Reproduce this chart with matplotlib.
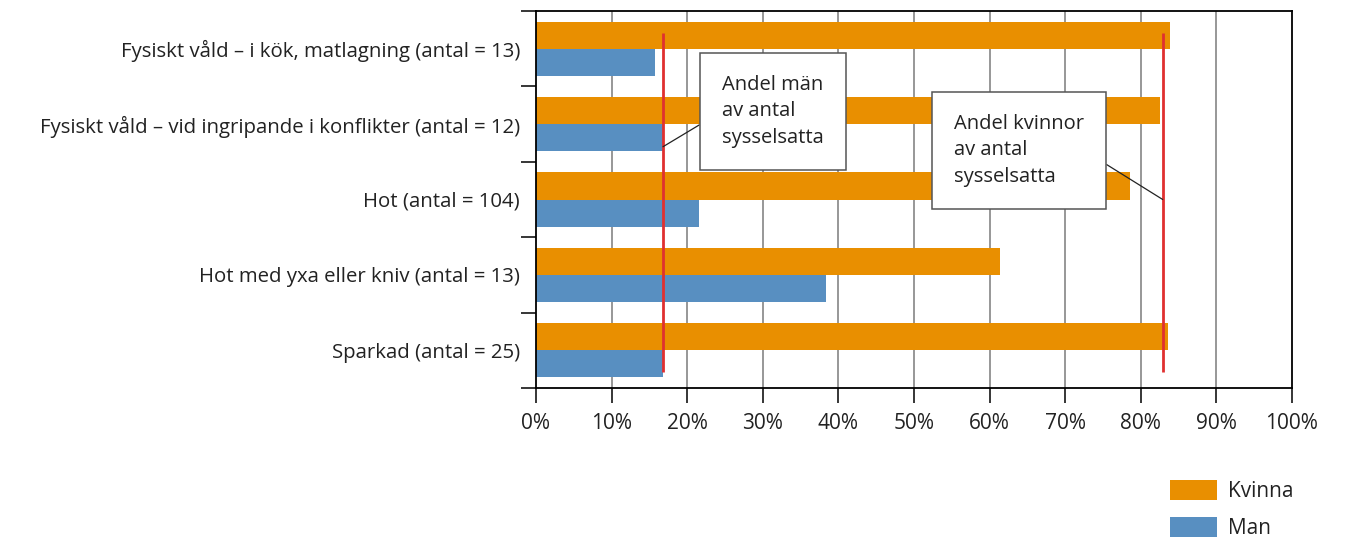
import numpy as np
import matplotlib
matplotlib.use("Agg")
from matplotlib import pyplot as plt
from matplotlib.ticker import FixedLocator

plt.rcParams['font.family'] = ['Open Sans', 'DejaVu Sans']

# data
categories = ['Fysiskt våld – i kök, matlagning (antal = 13)',
              'Fysiskt våld – vid ingripande i konflikter (antal = 12)',
              'Hot (antal = 104)',
              'Hot med yxa eller kniv (antal = 13)',
              'Sparkad (antal = 25)']
kvinna = [83.9, 82.5, 78.6, 61.4, 83.6]
man = [15.8, 16.8, 21.5, 38.3, 16.8]
andel_man = 16.8       # share of men among employed
andel_kvinnor = 82.9   # share of women among employed
xticks = np.arange(0, 101, 10)

orange = '#E98F00'
blue = '#588FC1'
txt = '#222222'

fig = plt.figure(figsize=(13.54, 5.44), dpi=100)
ax = fig.add_axes([536/1354, 1-388/544, (1292-536)/1354, (388-11)/544])

y = np.arange(len(categories))
h = 0.36
ax.barh(y - h/2, kvinna, height=h, color=orange, label='Kvinna', zorder=2)
ax.barh(y + h/2, man, height=h, color=blue, label='Man', zorder=2)

ax.set_xlim(0, 100)
ax.set_ylim(len(categories) - 0.5, -0.5)

# reference lines
ax.vlines([andel_man, andel_kvinnor], -0.21, 4.29, color='#E03030', lw=2, zorder=3)

# grid
for xv in xticks[1:-1]:
    ax.axvline(xv, color='#7a7a7a', lw=1.1, zorder=1)

ax.set_xticks(xticks)
ax.set_xticklabels([f'{v}%' for v in xticks])
ax.set_yticks(y)
ax.set_yticklabels(categories)
ax.yaxis.set_minor_locator(FixedLocator(np.arange(-0.5, len(categories), 1)))
ax.tick_params(axis='y', which='major', length=0, pad=11.5, labelsize=14.7, labelcolor=txt)
ax.tick_params(axis='y', which='minor', length=11, width=1.1, color='black')
ax.tick_params(axis='x', which='major', length=11, width=1.1, pad=7, labelsize=15, labelcolor=txt)
for s in ax.spines.values():
    s.set_linewidth(1.3)
    s.set_color('black')

# annotation boxes
box = dict(boxstyle='square,pad=1.1', fc='white', ec='#555555', lw=1.1)
ax.annotate('Andel män\nav antal\nsysselsatta', xy=(andel_man, 1.30), xytext=(24.6, 0.83),
            fontsize=14.5, color=txt, va='center', ha='left', linespacing=1.42,
            bbox=box, zorder=4,
            arrowprops=dict(arrowstyle='-', color='#222222', lw=0.9, relpos=(0, 0.5),
                            shrinkA=0, shrinkB=0))
ax.annotate('Andel kvinnor\nav antal\nsysselsatta', xy=(andel_kvinnor, 2.0), xytext=(55.3, 1.35),
            fontsize=14.5, color=txt, va='center', ha='left', linespacing=1.42,
            bbox=box, zorder=4,
            arrowprops=dict(arrowstyle='-', color='#222222', lw=0.9, relpos=(1, 0.5),
                            shrinkA=0, shrinkB=0))

fig.legend(loc='upper left', bbox_to_anchor=(1151/1354, 1-461/544), frameon=False,
           fontsize=15, handlelength=2.25, handleheight=1.12, labelspacing=0.7,
           handletextpad=0.55, labelcolor=txt)

fig.savefig('out.png', dpi=100)
